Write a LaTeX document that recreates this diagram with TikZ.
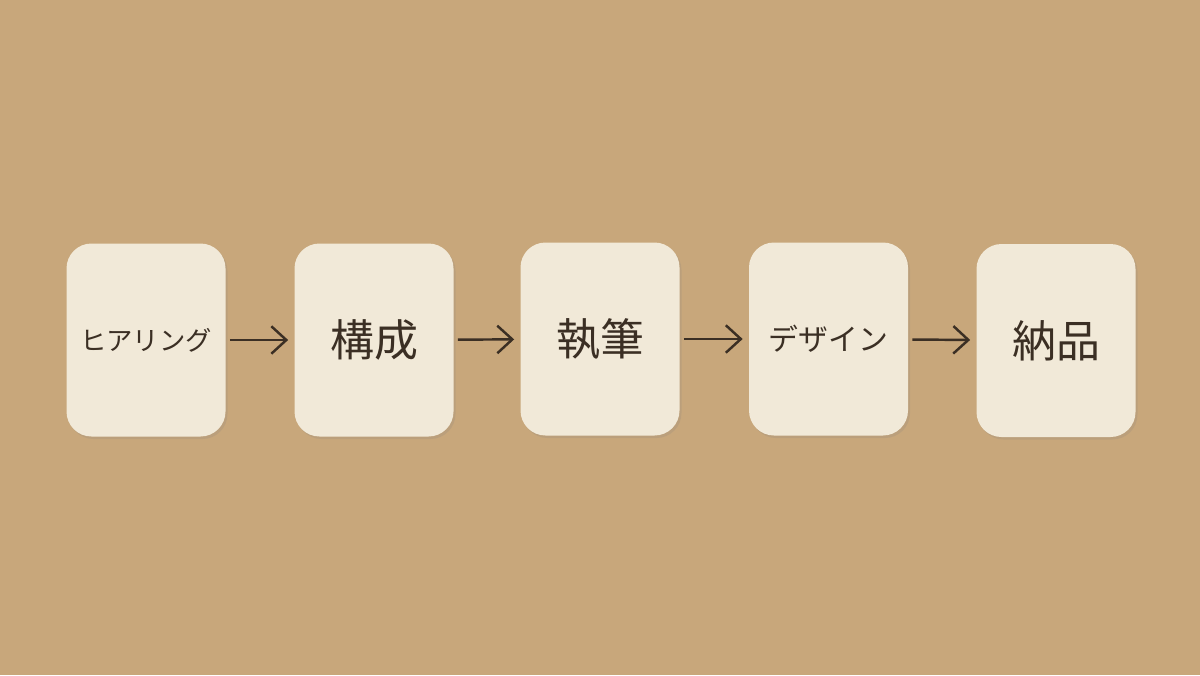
\documentclass[tikz,border=0pt]{standalone}
\usepackage{fontspec}
\newfontfamily\jpfont{Noto Sans CJK JP}
\usetikzlibrary{arrows.meta,shadows}
\definecolor{kraft}{HTML}{C8A77B}
\definecolor{card}{HTML}{F1E9D8}
\definecolor{ink}{HTML}{3B2F24}
\tikzset{
  card/.style={fill=card, rounded corners=0.5cm, inner sep=0pt, minimum width=3.18cm, minimum height=3.86cm,
    drop shadow={opacity=0.18, shadow xshift=0.04cm, shadow yshift=-0.05cm}, text=ink},
  flow/.style={draw=ink, line width=1.4pt, -{Straight Barb[length=0.3cm,width=0.55cm,line width=1.4pt]},
    shorten <=0.08cm, shorten >=0.12cm}
}
\begin{document}
\begin{tikzpicture}
\fill[kraft] (0,0) rectangle (24,13.5);
\useasboundingbox (0,0) rectangle (24,13.5);
\node[card, font=\jpfont\fontsize{15}{18}\selectfont] (hearing) at (2.92,6.7) {ヒアリング};
\node[card, font=\jpfont\fontsize{25}{28}\selectfont] (kousei) at (7.48,6.7) {構成};
\node[card, font=\jpfont\fontsize{25}{28}\selectfont] (shippitsu) at (12.0,6.72) {執筆};
\node[card, font=\jpfont\fontsize{17}{20}\selectfont] (design) at (16.57,6.72) {デザイン};
\node[card, font=\jpfont\fontsize{25}{28}\selectfont] (nouhin) at (21.12,6.69) {納品};
\draw[flow] (hearing) -- (kousei);
\draw[flow] (kousei) -- (shippitsu);
\draw[flow] (shippitsu) -- (design);
\draw[flow] (design) -- (nouhin);
\end{tikzpicture}
\end{document}
